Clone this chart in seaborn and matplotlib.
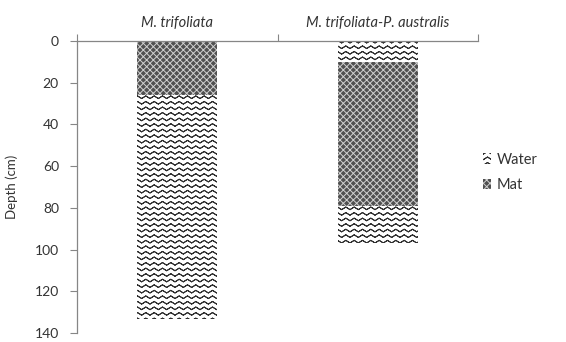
import numpy as np
import pandas as pd
import matplotlib
matplotlib.use('Agg')
import matplotlib.pyplot as plt
import matplotlib.hatch as mhatch
import matplotlib.patches as mpatches
from matplotlib.path import Path
import seaborn as sns


# data (depth in cm)
sites = ['M. trifoliata', 'M. trifoliata-P. australis']
water_top = [0, 10]       # open water above the mat
mat = [26, 69]            # floating mat thickness
water_below = [107, 18]   # water under the mat
depth_ticks = [0, 20, 40, 60, 80, 100, 120, 140]


# matplotlib has no wavy hatch, so turn '|' into zigzag lines
# (each line goes out and back along itself so agg's hatch fill adds nothing)
class WaveHatch(mhatch.HatchPatternBase):
    def __init__(self, hatch, density):
        self.num_lines = int(hatch.count('|') * density)
        self.n = 25
        self.num_vertices = self.num_lines * (2 * self.n - 1)

    def set_vertices_and_codes(self, vertices, codes):
        xs = np.linspace(0, 1, self.n)
        ys = np.where(np.arange(self.n) % 2 == 0, -0.013, 0.013)
        xs = np.concatenate([xs, xs[-2::-1]])
        ys = np.concatenate([ys, ys[-2::-1]])
        m = len(xs)
        for i in range(self.num_lines):
            y0 = (i + 0.5) / self.num_lines
            vertices[i * m:(i + 1) * m, 0] = xs
            vertices[i * m:(i + 1) * m, 1] = y0 + ys
            codes[i * m] = Path.MOVETO
            codes[i * m + 1:(i + 1) * m] = Path.LINETO


mhatch._hatch_types = [h for h in mhatch._hatch_types if h is not mhatch.VerticalHatch] + [WaveHatch]


sns.set_style('white')
plt.rcParams['font.family'] = ['Lato', 'DejaVu Sans']
plt.rcParams['hatch.linewidth'] = 0.7

water_style = dict(color='white', facecolor='white', edgecolor='#303030', hatch='|||', linewidth=0)
mat_style = dict(color='#505050', facecolor='#505050', edgecolor='#d0d0d0', hatch='xxxxx', linewidth=0)

df = pd.DataFrame({'site': sites, 'water_top': water_top, 'mat': mat, 'water_below': water_below})

fig = plt.figure(figsize=(5.66, 3.42), dpi=100)
ax = fig.add_axes([0.136, 0.026, 0.709, 0.854])

sns.barplot(data=df, x='site', y='water_top', order=sites, width=0.4, ax=ax, **water_style)
sns.barplot(data=df, x='site', y='mat', order=sites, width=0.4, ax=ax,
            bottom=df['water_top'].values, **mat_style)
sns.barplot(data=df, x='site', y='water_below', order=sites, width=0.4, ax=ax,
            bottom=(df['water_top'] + df['mat']).values, **water_style)

# depth axis, 0 at the top
ax.set_ylim(140, 0)
ax.set_yticks(depth_ticks)
ax.set_ylabel('Depth (cm)', fontsize=9.5, color='#333333', labelpad=12)
ax.tick_params(axis='y', length=5, width=0.8, color='#868686', labelsize=10, labelcolor='#333333', left=True, pad=8)

# category labels above the plot, ticks between categories
ax.set_xlim(-0.5, 1.5)
ax.xaxis.tick_top()
ax.set_xlabel('')
ax.set_xticks([0, 1])
ax.set_xticklabels(sites, fontstyle='italic', fontsize=10.5, color='#333333')
ax.set_xticks([-0.5, 0.5, 1.5], minor=True)
ax.tick_params(axis='x', which='major', length=0, pad=8)
ax.tick_params(axis='x', which='minor', length=5, width=0.8, color='#868686', top=True)

for side in ['bottom', 'right']:
    ax.spines[side].set_visible(False)
for side in ['top', 'left']:
    ax.spines[side].set_color('#868686')
    ax.spines[side].set_linewidth(0.9)

handles = [mpatches.Patch(label='Water', facecolor='white', edgecolor='#303030', hatch='|||', linewidth=0),
           mpatches.Patch(label='Mat', facecolor='#505050', edgecolor='#d0d0d0', hatch='xxxxx', linewidth=0)]
ax.legend(handles=handles, loc='center left', bbox_to_anchor=(0.978, 0.55), frameon=False,
          handlelength=0.6, handleheight=0.7, handletextpad=0.35, labelspacing=0.8,
          fontsize=10.5, labelcolor='#333333')

fig.savefig('out.png', dpi=100)
